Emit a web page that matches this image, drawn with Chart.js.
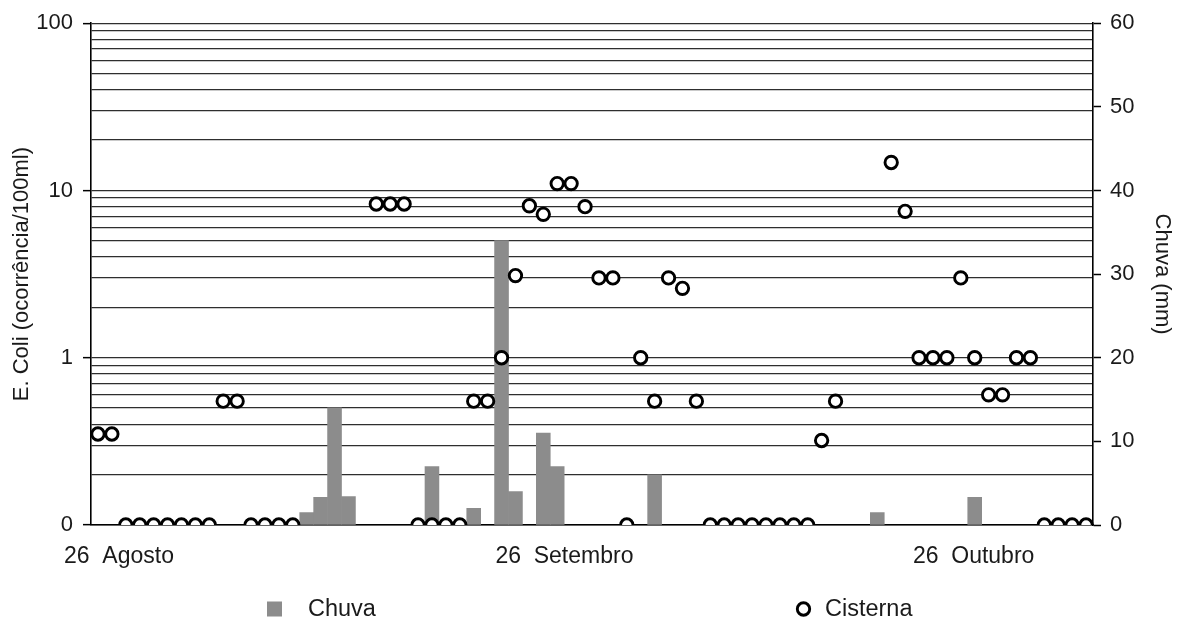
<!DOCTYPE html>
<html>
<head>
<meta charset="utf-8">
<title>E. Coli na cisterna e chuva</title>
<script src="https://cdn.jsdelivr.net/npm/chart.js@4.4.1/dist/chart.umd.min.js"></script>
<style>
  html, body { margin: 0; padding: 0; background: #ffffff; }
  #wrap { width: 1178px; height: 623px; }
</style>
</head>
<body>
<div id="wrap"><canvas id="chart" width="1178" height="623"></canvas></div>
<script>
// Daily monitoring period: 26 Aug to 5 Nov (72 days)
const START_DATE = new Date(2011, 7, 26);
const DAY_COUNT = 72;
const days = Array.from({ length: DAY_COUNT }, (_, i) => {
  const d = new Date(START_DATE);
  d.setDate(d.getDate() + i);
  return String(d.getDate()).padStart(2, '0') + '/' + String(d.getMonth() + 1).padStart(2, '0');
});

// Month markers shown on the date axis (day index -> label)
const monthMarkDays = [0, 31, 61];
const monthMarkLabels = ['26  Agosto', '26  Setembro', '26  Outubro'];

// E. coli in the cistern (occurrences/100 ml); null = no sample that day
const cisterna = [
  0.35, 0.35, 0, 0, 0, 0, 0, 0, 0, 0.55, 0.55, 0, 0, 0, 0,
  null, null, null, null, null,
  8.3, 8.3, 8.3, 0, 0, 0, 0, 0.55, 0.55, 1, 3.1, 8.1, 7.2, 11, 11, 8, 3, 3, 0, 1,
  0.55, 3, 2.6, 0.55, 0, 0, 0, 0, 0, 0, 0, 0, 0.32, 0.55,
  null, null, null,
  14.7, 7.5, 1, 1, 1, 3, 1, 0.6, 0.6, 1, 1, 0, 0, 0, 0
];

// Daily rainfall (mm); null = no rain
const chuva = [
  null, null, null, null, null, null, null, null, null, null, null, null, null, null, null,
  1.5, 3.3, 14, 3.4, null, null, null, null, null, 7, null, null, 2, null, 34,
  4, null, 11, 7, null, null, null, null, null, null, 6, null, null, null, null,
  null, null, null, null, null, null, null, null, null, null, null, 1.5, null, null, null,
  null, null, null, 3.3, null, null, null, null, null, null, null, null
];

// Left axis: log grid from the "0" floor (0.1) to 100
const LOG_FLOOR = 0.1;
const logGridValues = [
  0.1, 0.2, 0.3, 0.4, 0.5, 0.6, 0.7, 0.8, 0.9,
  1, 2, 3, 4, 5, 6, 7, 8, 9,
  10, 20, 30, 40, 50, 60, 70, 80, 90,
  100
];
const logTickLabels = { 0.1: '0', 1: '1', 10: '10', 100: '100' };

// Right axis (rain) range
const rainMin = 0, rainMax = 60, rainStep = 10;

// Zero counts sit on the "0" floor of the log axis
const cisternaPlot = cisterna.map(v => (v === null ? null : Math.max(v, LOG_FLOOR)));

const FONT = '"Liberation Sans", Arial, Helvetica, sans-serif';
const TEXT = '#1a1a1a';
const BAR_GRAY = '#8c8c8c';

const isMajor = v => Object.prototype.hasOwnProperty.call(logTickLabels, v);

// Legend drawn under the date axis with wide spacing between entries
const spreadLegend = {
  id: 'spreadLegend',
  afterDraw(chart, args, opts) {
    const { ctx } = chart;
    ctx.save();
    ctx.font = `${opts.fontSize}px ${FONT}`;
    ctx.textBaseline = 'middle';
    ctx.textAlign = 'left';
    opts.items.forEach(item => {
      const ds = chart.data.datasets.find(d => d.label === item.label);
      if (!ds) return;
      if (ds.type === 'bar') {
        ctx.fillStyle = ds.backgroundColor;
        ctx.fillRect(item.markX, opts.y - opts.box / 2, opts.box, opts.box);
      } else {
        ctx.beginPath();
        ctx.arc(item.markX + opts.box / 2, opts.y, ds.pointRadius, 0, Math.PI * 2);
        ctx.fillStyle = ds.pointBackgroundColor;
        ctx.fill();
        ctx.lineWidth = ds.pointBorderWidth;
        ctx.strokeStyle = ds.pointBorderColor;
        ctx.stroke();
      }
      ctx.fillStyle = opts.color;
      ctx.fillText(ds.label, item.textX, opts.y + 1);
    });
    ctx.restore();
  }
};

new Chart(document.getElementById('chart'), {
  data: {
    labels: days,
    datasets: [
      {
        type: 'line',
        label: 'Cisterna',
        data: cisternaPlot,
        yAxisID: 'yEcoli',
        showLine: false,
        pointStyle: 'circle',
        pointRadius: 6.2,
        pointHoverRadius: 6.2,
        pointBorderWidth: 2.9,
        pointBorderColor: '#000000',
        pointBackgroundColor: '#ffffff',
        order: 0
      },
      {
        type: 'bar',
        label: 'Chuva',
        data: chuva,
        yAxisID: 'yChuva',
        backgroundColor: BAR_GRAY,
        borderWidth: 0,
        barPercentage: 1,
        categoryPercentage: 1,
        order: 1
      }
    ]
  },
  options: {
    responsive: false,
    animation: false,
    devicePixelRatio: 1,
    layout: { padding: { top: 21, left: 0, right: 0, bottom: 48 } },
    plugins: {
      legend: { display: false },
      tooltip: { enabled: false },
      spreadLegend: {
        y: 609,
        box: 15,
        fontSize: 23.5,
        color: TEXT,
        items: [
          { label: 'Chuva', markX: 267, textX: 308 },
          { label: 'Cisterna', markX: 796, textX: 825 }
        ]
      }
    },
    scales: {
      x: {
        type: 'category',
        offset: true,
        grid: { display: false, drawTicks: false },
        border: { display: true, color: '#000000', width: 1.5 },
        ticks: {
          autoSkip: false,
          maxRotation: 0,
          minRotation: 0,
          align: 'start',
          labelOffset: -34,
          padding: 18,
          color: TEXT,
          font: { family: FONT, size: 23 },
          callback: (value, index) => {
            const k = monthMarkDays.indexOf(index);
            return k >= 0 ? monthMarkLabels[k] : '';
          }
        },
        afterFit: s => { s.height = 50; }
      },
      yEcoli: {
        type: 'logarithmic',
        position: 'left',
        min: LOG_FLOOR,
        max: 100,
        afterBuildTicks: s => { s.ticks = logGridValues.map(v => ({ value: v })); },
        ticks: {
          autoSkip: false,
          padding: 10,
          color: TEXT,
          font: { family: FONT, size: 22 },
          callback: v => (isMajor(v) ? logTickLabels[v] : '')
        },
        grid: {
          color: '#2e2e2e',
          lineWidth: 1.3,
          drawTicks: true,
          tickLength: 8,
          tickWidth: 1.5,
          tickColor: c => (c.tick && isMajor(c.tick.value) ? '#000000' : 'rgba(0,0,0,0)')
        },
        border: { display: true, color: '#000000', width: 1.6 },
        title: {
          display: true,
          text: 'E. Coli (ocorrência/100ml)',
          color: TEXT,
          font: { family: FONT, size: 22 },
          padding: { top: 9, bottom: 0 }
        },
        afterFit: s => { s.width = 91; }
      },
      yChuva: {
        type: 'linear',
        position: 'right',
        min: rainMin,
        max: rainMax,
        ticks: {
          stepSize: rainStep,
          padding: 9,
          color: TEXT,
          font: { family: FONT, size: 22 }
        },
        grid: {
          drawOnChartArea: false,
          drawTicks: true,
          tickLength: 8,
          tickWidth: 1.5,
          tickColor: '#000000'
        },
        border: { display: true, color: '#000000', width: 1.6 },
        title: {
          display: true,
          text: 'Chuva (mm)',
          color: TEXT,
          font: { family: FONT, size: 22 },
          padding: { top: 3, bottom: 0 }
        },
        afterFit: s => { s.width = 85; }
      }
    }
  },
  plugins: [spreadLegend]
});
</script>
</body>
</html>
